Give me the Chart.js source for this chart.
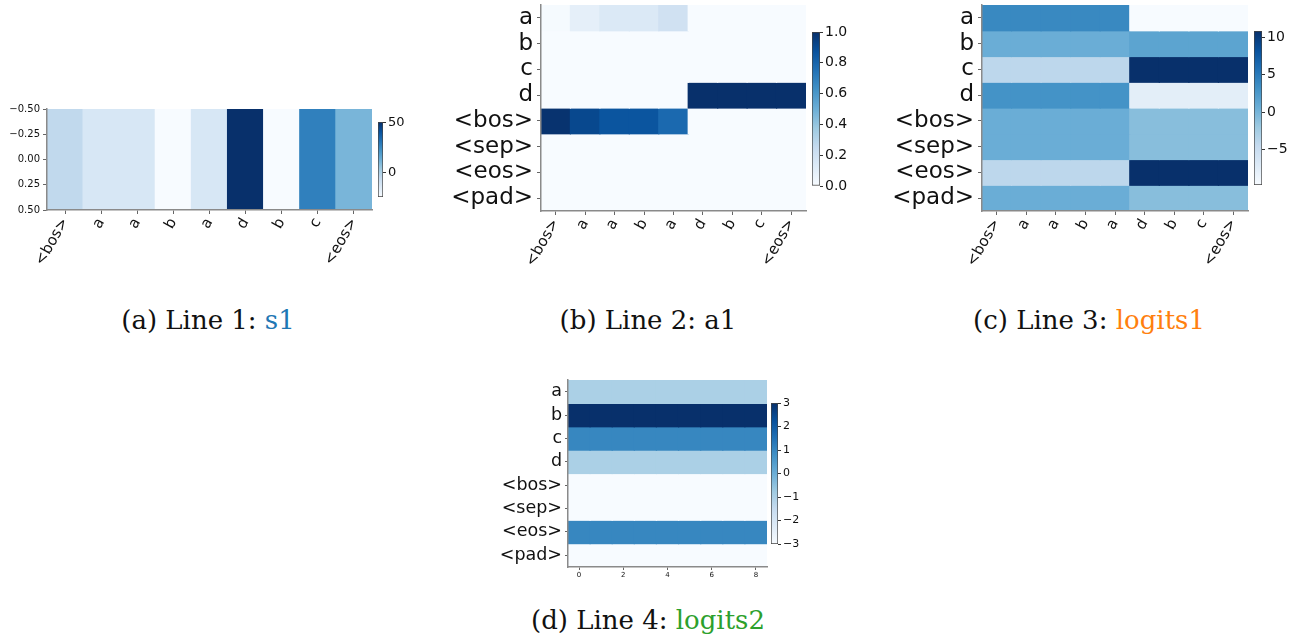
<!DOCTYPE html>
<html>
<head>
<meta charset="utf-8">
<script src="https://cdn.jsdelivr.net/npm/chart.js@4.4.0/dist/chart.umd.min.js"></script>
<style>
  html, body { margin: 0; padding: 0; background: #fff; }
  body { width: 1296px; height: 640px; position: relative; overflow: hidden; }
  canvas { position: absolute; }
  .cap {
    position: absolute; transform: translateX(-50%); white-space: nowrap;
    font-family: "DejaVu Serif", serif; font-size: 26px; color: #111; line-height: 30px;
  }
</style>
</head>
<body>
<canvas id="hA"></canvas><canvas id="cA"></canvas>
<canvas id="hB"></canvas><canvas id="cB"></canvas>
<canvas id="hC"></canvas><canvas id="cC"></canvas>
<canvas id="hD"></canvas><canvas id="cD"></canvas>

<div class="cap" style="left:208px; top:305px">(a) Line 1: <span style="color:#1f77b4">s1</span></div>
<div class="cap" style="left:648px; top:305px">(b) Line 2: a1</div>
<div class="cap" style="left:1089px; top:305px">(c) Line 3: <span style="color:#ff7f0e">logits1</span></div>
<div class="cap" style="left:648px; top:605px">(d) Line 4: <span style="color:#2ca02c">logits2</span></div>

<script>
// ---- data ----
const seqLabels = ['<bos>', 'a', 'a', 'b', 'a', 'd', 'b', 'c', '<eos>'];
const vocabLabels = ['a', 'b', 'c', 'd', '<bos>', '<sep>', '<eos>', '<pad>'];
const stepLabels = ['0', '1', '2', '3', '4', '5', '6', '7', '8'];
const stepTicks = [0, 2, 4, 6, 8];

const s1 = [-4, -12, -12, -24, -12, 51, -24, 28, 11];
const s1YTicks = [-0.5, -0.25, 0, 0.25, 0.5];
const s1CbarTicks = [0, 50];

const a1 = [
  [0.01, 0.09, 0.14, 0.14, 0.2, 0, 0, 0, 0],
  [0, 0, 0, 0, 0, 0, 0, 0, 0],
  [0, 0, 0, 0, 0, 0, 0, 0, 0],
  [0, 0, 0, 0, 0, 1, 1, 1, 1],
  [0.99, 0.91, 0.86, 0.86, 0.78, 0, 0, 0, 0],
  [0, 0, 0, 0, 0, 0, 0, 0, 0],
  [0, 0, 0, 0, 0, 0, 0, 0, 0],
  [0, 0, 0, 0, 0, 0, 0, 0, 0]
];
const a1CbarTicks = [0, 0.2, 0.4, 0.6, 0.8, 1.0];

const logits1 = [
  [3.8, 3.8, 3.8, 3.8, 3.8, -9.7, -9.7, -9.7, -9.7],
  [0.6, 0.6, 0.6, 0.6, 0.6, 1.5, 1.5, 1.5, 1.5],
  [-4.0, -4.0, -4.0, -4.0, -4.0, 10.8, 10.8, 10.8, 10.8],
  [3.0, 3.0, 3.0, 3.0, 3.0, -7.6, -7.6, -7.6, -7.6],
  [0.6, 0.6, 0.6, 0.6, 0.6, -0.9, -0.9, -0.9, -0.9],
  [0.6, 0.6, 0.6, 0.6, 0.6, -0.9, -0.9, -0.9, -0.9],
  [-4.0, -4.0, -4.0, -4.0, -4.0, 10.8, 10.8, 10.8, 10.8],
  [0.6, 0.6, 0.6, 0.6, 0.6, -0.9, -0.9, -0.9, -0.9]
];
const logits1CbarTicks = [-5, 0, 5, 10];

const logits2 = [
  [-1, -1, -1, -1, -1, -1, -1, -1, -1],
  [3, 3, 3, 3, 3, 3, 3, 3, 3],
  [1, 1, 1, 1, 1, 1, 1, 1, 1],
  [-1, -1, -1, -1, -1, -1, -1, -1, -1],
  [-3, -3, -3, -3, -3, -3, -3, -3, -3],
  [-3, -3, -3, -3, -3, -3, -3, -3, -3],
  [1, 1, 1, 1, 1, 1, 1, 1, 1],
  [-3, -3, -3, -3, -3, -3, -3, -3, -3]
];
const logits2CbarTicks = [-3, -2, -1, 0, 1, 2, 3];

// ---- colormap (matplotlib Blues) ----
const BLUES = ['#f7fbff', '#deebf7', '#c6dbef', '#9ecae1', '#6baed6', '#4292c6', '#2171b5', '#08519c', '#08306b'];
function hexRgb(h) { return [1, 3, 5].map(i => parseInt(h.slice(i, i + 2), 16)); }
function blues(t) {
  t = Math.min(1, Math.max(0, t));
  const x = t * (BLUES.length - 1);
  const i = Math.min(Math.floor(x), BLUES.length - 2);
  const f = x - i;
  const a = hexRgb(BLUES[i]), b = hexRgb(BLUES[i + 1]);
  const c = a.map((v, k) => Math.round(v + (b[k] - v) * f));
  return `rgb(${c[0]},${c[1]},${c[2]})`;
}
const minus = v => String(v).replace('-', '\u2212');

const SPINE = '#8a8a8a';
const TICK = '#666';
const LABEL = '#111';
const FONT = '"DejaVu Sans", sans-serif';

function placeCanvas(el, left, top, width, height) {
  el.width = width; el.height = height;
  el.style.left = left + 'px'; el.style.top = top + 'px';
}

// area = where the plot box should land on the page
function heatmap(id, o) {
  const rows = o.rows;
  const flat = rows.flat();
  const vmin = Math.min(...flat), vmax = Math.max(...flat);
  const a = o.area;
  const left = a.L - o.yW, top = a.T - o.padTop;
  const width = a.R + 4 - left, height = o.padTop + (a.B - a.T) + o.xH;
  const el = document.getElementById(id);
  placeCanvas(el, left, top, width, height);

  const datasets = rows.map((row, r) => ({
    data: row.map(() => [o.rowPos(r) - 0.5, o.rowPos(r) + 0.5]),
    backgroundColor: row.map(v => blues((v - vmin) / (vmax - vmin))),
    borderWidth: 0,
    inflateAmount: 0.6,
    barPercentage: 1,
    categoryPercentage: 1,
    grouped: false
  }));

  new Chart(el, {
    type: 'bar',
    data: { labels: o.cols, datasets },
    options: {
      responsive: false,
      animation: false,
      events: [],
      layout: { padding: { top: o.padTop, right: 4, left: 0, bottom: 0 } },
      plugins: { legend: { display: false }, tooltip: { enabled: false } },
      scales: {
        x: {
          type: 'category',
          offset: true,
          grid: {
            offset: false, drawOnChartArea: false, tickLength: o.tickLen,
            color: o.xTickShown ? (c => o.xTickShown(c.index) ? TICK : 'rgba(0,0,0,0)') : TICK
          },
          border: { display: true, color: SPINE, width: 1.5, z: 1 },
          ticks: {
            autoSkip: false, minRotation: o.xRot, maxRotation: o.xRot, padding: 1,
            color: LABEL, font: { family: FONT, size: o.xFont },
            callback: function (v, i) {
              if (o.xTickShown && !o.xTickShown(i)) return '';
              return this.getLabelForValue(v);
            }
          },
          afterFit: s => { s.height = o.xH; s.paddingLeft = 0; s.paddingRight = 0; }
        },
        y: {
          type: 'linear',
          reverse: true,
          min: o.yMin, max: o.yMax,
          grid: { drawOnChartArea: false, tickLength: o.tickLen, color: TICK },
          border: { display: true, color: SPINE, width: 1.5, z: 1 },
          afterBuildTicks: s => { s.ticks = o.yTicks.map(v => ({ value: v })); },
          ticks: {
            autoSkip: false, padding: o.yPad, color: LABEL, font: { family: FONT, size: o.yFont },
            callback: o.yFmt
          },
          afterFit: s => { s.width = o.yW; s.paddingTop = 0; s.paddingBottom = 0; }
        }
      }
    }
  });
}

function colorbar(id, o) {
  const a = o.area;
  const el = document.getElementById(id);
  placeCanvas(el, a.L, a.T - 10, (a.R - a.L) + 34, (a.B - a.T) + 20);
  new Chart(el, {
    type: 'bar',
    data: {
      labels: [''],
      datasets: [{
        data: [[o.vmin, o.vmax]],
        backgroundColor: c => {
          const area = c.chart.chartArea;
          if (!area) return 'rgba(0,0,0,0)';
          const g = c.chart.ctx.createLinearGradient(0, area.bottom, 0, area.top);
          BLUES.forEach((col, i) => g.addColorStop(i / (BLUES.length - 1), col));
          return g;
        },
        borderColor: '#444',
        borderWidth: 1,
        borderSkipped: false,
        barPercentage: 1,
        categoryPercentage: 1
      }]
    },
    options: {
      responsive: false,
      animation: false,
      events: [],
      layout: { padding: { top: 10, bottom: 10, left: 0, right: 0 } },
      plugins: { legend: { display: false }, tooltip: { enabled: false } },
      scales: {
        x: { display: false },
        y: {
          position: 'right',
          min: o.vmin, max: o.vmax,
          grid: { drawOnChartArea: false, tickLength: 3, color: '#333' },
          border: { display: false },
          afterBuildTicks: s => { s.ticks = o.ticks.map(v => ({ value: v })); },
          ticks: {
            autoSkip: false, padding: 2, color: LABEL, font: { family: FONT, size: o.font },
            callback: o.fmt
          },
          afterFit: s => { s.width = 34; s.paddingTop = 0; s.paddingBottom = 0; }
        }
      }
    }
  });
}

const range = arr => { const f = arr.flat(); return [Math.min(...f), Math.max(...f)]; };
const vocabFmt = v => vocabLabels[Math.round(v)];
const rowIndex = r => r;
const vocabTicks = vocabLabels.map((_, i) => i);

// (a) s1
heatmap('hA', {
  rows: [s1], cols: seqLabels, rowPos: () => 0,
  area: { L: 47, T: 109, R: 372, B: 210 }, yW: 47, xH: 70, padTop: 10,
  yMin: -0.5, yMax: 0.5, yTicks: s1YTicks, yFmt: v => minus(v.toFixed(2)),
  yFont: 10, yPad: 3, xFont: 15, xRot: 60, tickLen: 4
});
{
  const [lo, hi] = range([s1]);
  colorbar('cA', { area: { L: 378, T: 122, R: 383, B: 197 }, vmin: lo, vmax: hi, ticks: s1CbarTicks, fmt: v => minus(v), font: 13 });
}

// (b) a1
heatmap('hB', {
  rows: a1, cols: seqLabels, rowPos: rowIndex,
  area: { L: 541, T: 5, R: 806, B: 211 }, yW: 95, xH: 70, padTop: 5,
  yMin: -0.5, yMax: vocabLabels.length - 0.5, yTicks: vocabTicks, yFmt: vocabFmt,
  yFont: 23, yPad: 4, xFont: 15, xRot: 60, tickLen: 4
});
{
  const [lo, hi] = range(a1);
  colorbar('cB', { area: { L: 812, T: 32, R: 820, B: 186 }, vmin: lo, vmax: hi, ticks: a1CbarTicks, fmt: v => v.toFixed(1), font: 14 });
}

// (c) logits1
heatmap('hC', {
  rows: logits1, cols: seqLabels, rowPos: rowIndex,
  area: { L: 982, T: 5, R: 1248, B: 211 }, yW: 95, xH: 70, padTop: 5,
  yMin: -0.5, yMax: vocabLabels.length - 0.5, yTicks: vocabTicks, yFmt: vocabFmt,
  yFont: 23, yPad: 4, xFont: 15, xRot: 60, tickLen: 4
});
{
  const [lo, hi] = range(logits1);
  colorbar('cC', { area: { L: 1254, T: 31, R: 1262, B: 185 }, vmin: lo, vmax: hi, ticks: logits1CbarTicks, fmt: v => minus(v), font: 14 });
}

// (d) logits2
heatmap('hD', {
  rows: logits2, cols: stepLabels, rowPos: rowIndex,
  area: { L: 568, T: 380, R: 767, B: 567 }, yW: 70, xH: 20, padTop: 10,
  yMin: -0.5, yMax: vocabLabels.length - 0.5, yTicks: vocabTicks, yFmt: vocabFmt,
  yFont: 17.5, yPad: 3, xFont: 7, xRot: 0, tickLen: 3,
  xTickShown: i => stepTicks.includes(i)
});
{
  const [lo, hi] = range(logits2);
  colorbar('cD', { area: { L: 771, T: 403, R: 778, B: 544 }, vmin: lo, vmax: hi, ticks: logits2CbarTicks, fmt: v => minus(v), font: 11 });
}
</script>
</body>
</html>
